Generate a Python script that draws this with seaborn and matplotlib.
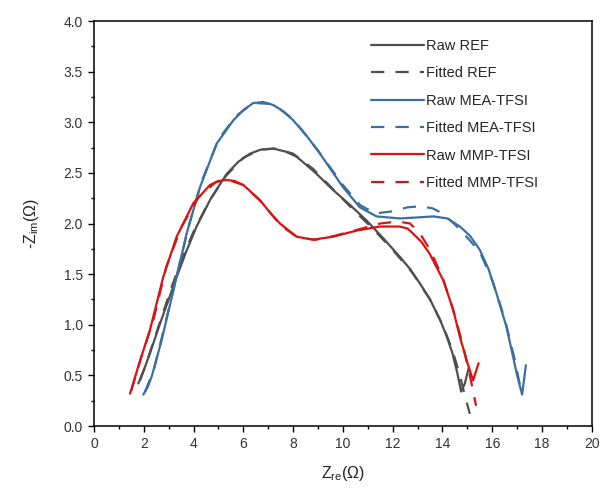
import pandas as pd
import seaborn as sns
import matplotlib.pyplot as plt
from matplotlib.ticker import MultipleLocator

# Nyquist data (Z_re, -Z_im in ohm)
ref_raw_x = [1.78, 2.0, 2.25, 2.65, 3.0, 3.32, 3.7, 4.12, 4.7, 5.33, 5.8, 6.27, 6.7, 7.2, 7.7, 8.14,
             8.9, 9.61, 10.3, 10.95, 11.6, 12.29, 12.7, 13.09, 13.5, 13.9, 14.15, 14.4, 14.6, 14.75, 14.9, 15.05]
ref_raw_y = [0.42, 0.55, 0.72, 1.01, 1.25, 1.47, 1.72, 1.97, 2.25, 2.49, 2.61, 2.69, 2.73, 2.74, 2.71, 2.66,
             2.5, 2.33, 2.18, 2.03, 1.86, 1.67, 1.55, 1.41, 1.25, 1.05, 0.9, 0.72, 0.52, 0.34, 0.42, 0.57]
ref_fit_x = [1.85, 2.1, 2.4, 2.75, 3.1, 3.5, 4.0, 4.6, 5.3, 6.0, 6.7, 7.3, 8.0, 8.8, 9.6, 10.4,
             11.2, 12.0, 12.8, 13.5, 14.0, 14.4, 14.7, 14.9, 15.1]
ref_fit_y = [0.45, 0.62, 0.84, 1.1, 1.36, 1.63, 1.92, 2.21, 2.47, 2.65, 2.73, 2.74, 2.69, 2.54, 2.34, 2.14,
             1.95, 1.74, 1.51, 1.25, 1.0, 0.75, 0.5, 0.3, 0.12]

mea_raw_x = [1.98, 2.15, 2.32, 2.72, 3.19, 3.72, 4.26, 4.93, 5.6, 6.0, 6.4, 6.8, 7.2, 7.6, 8.0, 8.5, 9.08,
             10.0, 10.68, 11.35, 12.29, 13.0, 13.63, 14.2, 14.7, 15.1, 15.5, 15.85, 16.17, 16.57, 16.84,
             17.0, 17.2, 17.35]
mea_raw_y = [0.31, 0.38, 0.49, 0.85, 1.34, 1.9, 2.36, 2.79, 3.02, 3.12, 3.19, 3.2, 3.17, 3.11, 3.02, 2.88, 2.69,
             2.36, 2.16, 2.07, 2.05, 2.06, 2.07, 2.05, 1.97, 1.88, 1.74, 1.55, 1.31, 0.98, 0.68,
             0.5, 0.31, 0.6]
mea_fit_x = [2.05, 2.4, 2.8, 3.3, 3.8, 4.3, 5.0, 5.7, 6.4, 7.2, 8.0, 9.0, 10.0, 10.7, 11.3, 12.0, 12.6,
             13.1, 13.6, 14.0, 14.5, 15.0, 15.5, 16.0, 16.5, 16.9, 17.15]
mea_fit_y = [0.34, 0.55, 0.95, 1.46, 1.97, 2.4, 2.83, 3.06, 3.19, 3.18, 3.03, 2.72, 2.38, 2.18, 2.1, 2.12, 2.16,
             2.17, 2.15, 2.1, 1.99, 1.86, 1.72, 1.44, 1.06, 0.66, 0.36]

mmp_raw_x = [1.45, 1.78, 2.25, 2.78, 3.32, 3.99, 4.66, 5.0, 5.33, 5.65, 6.0, 6.67, 7.1, 7.47, 8.14, 8.8,
             9.61, 10.55, 11.49, 12.29, 12.6, 12.82, 13.15, 13.49, 14.03, 14.43, 14.7, 14.97, 15.23, 15.45]
mmp_raw_y = [0.32, 0.59, 0.95, 1.47, 1.87, 2.2, 2.38, 2.42, 2.43, 2.42, 2.38, 2.23, 2.1, 2.0, 1.87, 1.84,
             1.87, 1.93, 1.97, 1.97, 1.95, 1.9, 1.82, 1.7, 1.44, 1.15, 0.88, 0.65, 0.45, 0.62]
mmp_fit_x = [1.5, 1.9, 2.4, 2.9, 3.5, 4.2, 4.9, 5.4, 6.0, 6.7, 7.5, 8.2, 8.9, 9.7, 10.6, 11.5, 12.2,
             12.7, 13.1, 13.5, 14.0, 14.4, 14.8, 15.1, 15.35]
mmp_fit_y = [0.35, 0.68, 1.06, 1.57, 1.96, 2.26, 2.41, 2.43, 2.38, 2.22, 1.98, 1.86, 1.84, 1.88, 1.94, 2.0, 2.02,
             2.0, 1.9, 1.74, 1.47, 1.17, 0.82, 0.5, 0.2]

labels = ['Raw REF', 'Fitted REF', 'Raw MEA-TFSI', 'Fitted MEA-TFSI', 'Raw MMP-TFSI', 'Fitted MMP-TFSI']
series = [(ref_raw_x, ref_raw_y), (ref_fit_x, ref_fit_y), (mea_raw_x, mea_raw_y),
          (mea_fit_x, mea_fit_y), (mmp_raw_x, mmp_raw_y), (mmp_fit_x, mmp_fit_y)]

# long format table for seaborn
frames = []
for lab, (xs, ys) in zip(labels, series):
    frames.append(pd.DataFrame({'zre': xs, 'zim': ys, 'series': lab}))
df = pd.concat(frames, ignore_index=True)

palette = {'Raw REF': '#4f4f4f', 'Fitted REF': '#4f4f4f',
           'Raw MEA-TFSI': '#3b6fa1', 'Fitted MEA-TFSI': '#3b6fa1',
           'Raw MMP-TFSI': '#e01010', 'Fitted MMP-TFSI': '#d01818'}
dashes = {lab: '' if lab.startswith('Raw') else (6, 5) for lab in labels}

sns.set_style('ticks')
plt.rcParams['font.family'] = ['Liberation Sans', 'DejaVu Sans']

fig = plt.figure(figsize=(6.12, 4.93), dpi=100)
ax = fig.add_axes([0.1536, 0.1359, 0.8134, 0.8215])

sns.lineplot(data=df, x='zre', y='zim', hue='series', style='series', hue_order=labels,
             style_order=labels, palette=palette, dashes=dashes, sort=False, estimator=None,
             linewidth=1.6, ax=ax)

ax.set_xlim(0, 20)
ax.set_ylim(0, 4.0)
ax.xaxis.set_major_locator(MultipleLocator(2))
ax.xaxis.set_minor_locator(MultipleLocator(1))
ax.yaxis.set_major_locator(MultipleLocator(0.5))
ax.yaxis.set_minor_locator(MultipleLocator(0.25))
ax.yaxis.set_major_formatter(plt.FormatStrFormatter('%.1f'))
ax.tick_params(which='major', direction='out', length=4.5, width=1.0, labelsize=10,
               labelcolor='#333333', color='black')
ax.tick_params(which='minor', direction='out', length=2.5, width=1.0, color='black')
for sp in ax.spines.values():
    sp.set_linewidth(1.1)
    sp.set_color('black')

ax.set_xlabel('Z$_{\\mathregular{re}}$(Ω)', fontsize=11.5, color='#222222', labelpad=9)
ax.set_ylabel('-Z$_{\\mathregular{im}}$(Ω)', fontsize=11.5, color='#222222', labelpad=16)

sns.move_legend(ax, 'upper left', bbox_to_anchor=(0.597, 0.933), bbox_transform=fig.transFigure,
                frameon=False, title=None, fontsize=10.5, handlelength=3.6, handletextpad=0.15,
                labelspacing=0.92, borderaxespad=0)

fig.savefig('out.png', dpi=100)
